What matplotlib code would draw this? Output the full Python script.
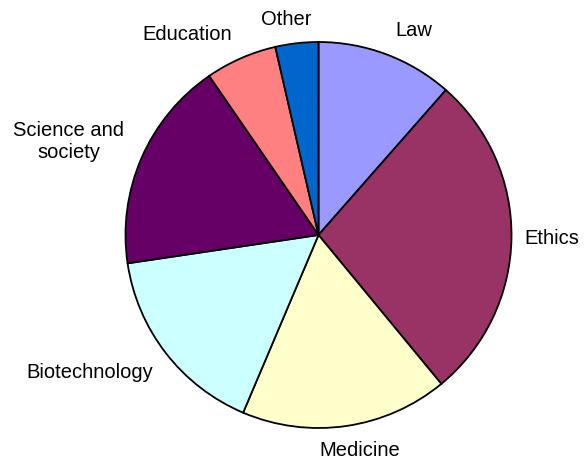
import matplotlib
matplotlib.use("Agg")
import matplotlib.pyplot as plt

# slices, clockwise from 12 o'clock
categories = ["Law", "Ethics", "Medicine", "Biotechnology",
              "Science and\nsociety", "Education", "Other"]
shares = [11.5, 27.6, 17.4, 16.3, 17.8, 6.0, 3.6]
colors = ["#9999FF", "#993366", "#FFFFCC", "#CCFFFF",
          "#660066", "#FF8080", "#0066CC"]
# label centres in pie-radius units
label_pos = [(0.495, 1.062), (1.210, -0.016), (0.215, -1.119),
             (-1.185, -0.715), (-1.294, 0.482), (-0.681, 1.041),
             (-0.168, 1.119)]

plt.rcParams['font.family'] = ['Liberation Sans', 'DejaVu Sans']

fig = plt.figure(figsize=(5.86, 4.62), dpi=100)
ax = fig.add_axes([125.5 / 586, 34 / 462, 386 / 586, 386 / 462])

wedges, texts = ax.pie(shares, labels=categories, colors=colors,
                       startangle=90, counterclock=False,
                       wedgeprops=dict(edgecolor="black", linewidth=1.3),
                       textprops=dict(fontsize=14.5))
for t, (x, y) in zip(texts, label_pos):
    t.set_position((x, y))
    t.set_ha("center")
    t.set_va("center")
    t.set_clip_on(False)

ax.set_xlim(-1, 1)
ax.set_ylim(-1, 1)
ax.set_aspect("auto")
ax.axis("off")

fig.savefig("out.png", dpi=100)
